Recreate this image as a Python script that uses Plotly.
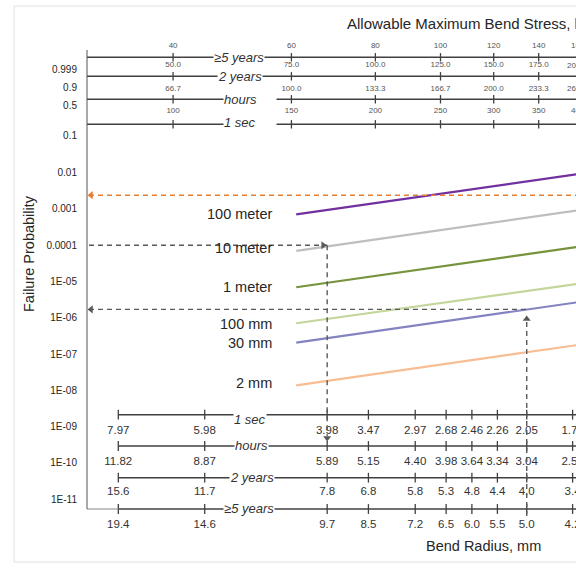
import numpy as np
import plotly.graph_objects as go

# stress (kpsi, >=5 years scale) where the curves are read
stress = [61, 80, 100, 120, 140, 160]

p_100m = [7.06e-4, 1.46e-3, 2.65e-3, 4.30e-3, 6.49e-3, 9.08e-3]
p_10m = [6.95e-5, 1.44e-4, 2.62e-4, 4.28e-4, 6.50e-4, 9.11e-4]
p_1m = [6.93e-6, 1.44e-5, 2.60e-5, 4.21e-5, 6.40e-5, 8.97e-5]
p_100mm = [7.05e-7, 1.44e-6, 2.56e-6, 4.10e-6, 6.14e-6, 8.55e-6]
p_30mm = [2.06e-7, 4.27e-7, 7.74e-7, 1.26e-6, 1.91e-6, 2.67e-6]
p_2mm = [1.37e-8, 2.85e-8, 5.14e-8, 8.35e-8, 1.27e-7, 1.77e-7]

curve_names = ['100 meter', '10 meter', '1 meter', '100 mm', '30 mm', '2 mm']
curve_colors = ['#7030A0', '#BEBEBE', '#77933C', '#C3D69B', '#8383C2', '#F8BD92']

prob_ticks = [0.999, 0.9, 0.5, 0.1, 0.01, 0.001, 0.0001, 1e-5, 1e-6, 1e-7,
              1e-8, 1e-9, 1e-10, 1e-11]
prob_labels = ['0.999', '0.9', '0.5', '0.1', '0.01', '0.001', '0.0001', '1E-05',
               '1E-06', '1E-07', '1E-08', '1E-09', '1E-10', '1E-11']

# top scales, ticks sit at the >=5 years stress
stress_5y = [40, 60, 80, 100, 120, 140, 160]
stress_2y = ['50.0', '75.0', '100.0', '125.0', '150.0', '175.0', '200.0']
stress_hours = ['66.7', '100.0', '133.3', '166.7', '200.0', '233.3', '266.7']
stress_1s = ['100', '150', '200', '250', '300', '350', '400']

# bottom scales, ticks sit at the 1 sec bend radius (mm)
radius_1s = [7.97, 5.98, 3.98, 3.47, 2.97, 2.68, 2.46, 2.26, 2.05, 1.76]
radius_hours = ['11.82', '8.87', '5.89', '5.15', '4.40', '3.98', '3.64', '3.34', '3.04', '2.59']
radius_2y = ['15.6', '11.7', '7.8', '6.8', '5.8', '5.3', '4.8', '4.4', '4.0', '3.4']
radius_5y = ['19.4', '14.6', '9.7', '8.5', '7.2', '6.5', '6.0', '5.5', '5.0', '4.2']

# worked examples drawn as dashed arrows
example_prob = [1e-4, 1.7e-6]
example_radius = [3.98, 2.05]
orange_prob = 2.4e-3

FONT = 'Liberation Sans, Arial, sans-serif'
GRAY = '#595959'
ORANGE = '#E67E30'
LINE = '#404040'

W = 576
# plot box, pixels
L, R, T, B = 87, 576, 30, 560
AX_TOP, AX_BOT = 50, 509

label_dy = [0, 3, 0, -1, 0, 2]


def weib(p):
    return np.log10(-np.log1p(-np.asarray(p, dtype=float)))


def v_px(py):
    return -2 - (py - 172.7) / 36.26


def s_px(px):
    return 10 ** (2 + (px - 440.5) / 672)


def px_s(s):
    return 440.5 + 672 * (np.log10(s) - 2)


def r_px(px):
    return 10 ** (np.log10(7.97) - (px - 118.3) / 692.6)


def px_r(r):
    return 118.3 + 692.6 * (np.log10(7.97) - np.log10(r))


def xp(px):
    return (px - L) / (R - L)


def yp(py):
    return (B - py) / (B - T)


fig = go.Figure()

for name, p, col, dy in zip(curve_names, [p_100m, p_10m, p_1m, p_100mm, p_30mm, p_2mm], curve_colors, label_dy):
    fig.add_trace(go.Scatter(x=stress, y=weib(p), mode='lines', line=dict(color=col, width=2.2)))
    fig.add_annotation(x=np.log10(stress[0]), y=float(weib(p[0])), text=name, showarrow=False,
                       xanchor='right', xshift=-22, yshift=dy,
                       font=dict(size=14.5, color='#262626', family=FONT))

# probability axis line and its crosses
fig.add_shape(type='line', xref='paper', yref='paper', x0=0, x1=0, y0=yp(AX_BOT), y1=yp(AX_TOP),
              line=dict(color='#555', width=1))
fig.add_trace(go.Scatter(x=[s_px(L)] * len(prob_ticks), y=weib(prob_ticks), mode='markers',
                         marker=dict(symbol='cross-thin', size=8, line=dict(width=1.3, color='#333')),
                         cliponaxis=False))

# top rows: (row y px, label y px, labels)
top_rows = [(57.3, 45.7, [str(s) for s in stress_5y]),
            (76.3, 65.0, stress_2y),
            (99.3, 88.7, stress_hours),
            (124.3, 111.0, stress_1s)]
x_max = s_px(R)
for row_y, lab_y, labels in top_rows:
    fig.add_trace(go.Scatter(x=[s_px(L), s_px(600)], y=[v_px(row_y)] * 2, mode='lines',
                             line=dict(color=LINE, width=1.5)))
    fig.add_trace(go.Scatter(x=stress_5y, y=[v_px(row_y)] * len(stress_5y), mode='markers',
                             marker=dict(symbol='line-ns', size=6, line=dict(width=1.3, color=LINE)),
                             cliponaxis=False))
    inside = [s <= x_max for s in stress_5y]
    fig.add_trace(go.Scatter(x=[s for s, k in zip(stress_5y, inside) if k],
                             y=[v_px(lab_y)] * sum(inside), mode='text',
                             text=[t for t, k in zip(labels, inside) if k],
                             textfont=dict(size=8, color='#555', family=FONT), cliponaxis=False))
    # the column that falls off the right edge is only half visible
    for s, lab, k in zip(stress_5y, labels, inside):
        if not k:
            fig.add_annotation(xref='paper', yref='paper', x=xp(px_s(s)), y=yp(lab_y), text=lab,
                               showarrow=False, xanchor='center', yanchor='middle',
                               font=dict(size=8, color='#555', family=FONT))

bottom_rows = [(414.7, 430.7, ['%.2f' % r for r in radius_1s]),
               (446.0, 462.0, radius_hours),
               (477.7, 491.7, radius_2y),
               (509.0, 525.0, radius_5y)]
for row_y, lab_y, labels in bottom_rows:
    fig.add_trace(go.Scatter(x=[radius_1s[0], r_px(600)], y=[v_px(row_y)] * 2, mode='lines', xaxis='x2',
                             line=dict(color=LINE, width=1.5)))
    fig.add_trace(go.Scatter(x=radius_1s, y=[v_px(row_y)] * len(radius_1s), mode='markers', xaxis='x2',
                             marker=dict(symbol='line-ns', size=7, line=dict(width=1.3, color=LINE)),
                             cliponaxis=False))
    fig.add_trace(go.Scatter(x=radius_1s, y=[v_px(lab_y)] * len(radius_1s), mode='text', text=labels,
                             xaxis='x2', textfont=dict(size=11.5, color='#333', family=FONT),
                             cliponaxis=False))

# corner where the probability axis meets the bottom row
fig.add_trace(go.Scatter(x=[r_px(L), radius_1s[0]], y=[v_px(AX_BOT)] * 2, mode='lines', xaxis='x2',
                         line=dict(color='#888', width=1)))

# row names: text, left px, centre y px, white box width
row_names = [('≥5 years', 213, 57.3, None), ('2 years', 217, 76.3, None), ('hours', 223, 99.3, 52),
             ('1 sec', 223, 123.0, 52), ('1 sec', 233, 419.3, None), ('hours', 234, 445.7, None),
             ('2 years', 229, 477.3, None), ('≥5 years', 223, 508.7, None)]
for txt, x0, y0, w in row_names:
    fig.add_annotation(xref='paper', yref='paper', x=xp(x0), y=yp(y0), text='<i>%s</i>' % txt,
                       showarrow=False, xanchor='left', yanchor='middle', bgcolor='white', borderpad=0,
                       width=w, align='left', font=dict(size=13, color='#333', family=FONT))

dash = dict(color=GRAY, width=1.4, dash='5px,4px')
tri = dict(size=7, color=GRAY)

# example 1: probability -> 10 meter curve -> radius
y1 = float(weib(example_prob[0]))
fig.add_trace(go.Scatter(x=[r_px(L + 2), example_radius[0]], y=[y1, y1], mode='lines', xaxis='x2', line=dash))
fig.add_trace(go.Scatter(x=[example_radius[0], example_radius[0]], y=[y1, v_px(436)], mode='lines',
                         xaxis='x2', line=dash))
fig.add_trace(go.Scatter(x=[r_px(px_r(example_radius[0]) - 4), example_radius[0]], y=[y1, v_px(438)],
                         mode='markers', xaxis='x2', cliponaxis=False,
                         marker=dict(symbol=['triangle-right', 'triangle-down'], **tri)))

# example 2: radius -> 30 mm curve -> probability
y2 = float(weib(example_prob[1]))
fig.add_trace(go.Scatter(x=[example_radius[1], example_radius[1]], y=[v_px(516), v_px(318)], mode='lines',
                         xaxis='x2', line=dash))
fig.add_trace(go.Scatter(x=[r_px(L + 2), example_radius[1]], y=[y2, y2], mode='lines', xaxis='x2', line=dash))
fig.add_trace(go.Scatter(x=[example_radius[1], r_px(L + 4)], y=[v_px(319), y2], mode='markers', xaxis='x2',
                         cliponaxis=False, marker=dict(symbol=['triangle-up', 'triangle-left'], **tri)))

yo = float(weib(orange_prob))
fig.add_trace(go.Scatter(x=[s_px(L + 2), s_px(600)], y=[yo, yo], mode='lines',
                         line=dict(color=ORANGE, width=1.5, dash='5px,4px')))
fig.add_trace(go.Scatter(x=[s_px(L + 4)], y=[yo], mode='markers', cliponaxis=False,
                         marker=dict(symbol='triangle-left', size=7, color=ORANGE)))

fig.add_annotation(xref='paper', yref='paper', x=xp(345), y=yp(23.3), text='Allowable Maximum Bend Stress, kpsi',
                   showarrow=False, xanchor='left', yanchor='middle',
                   font=dict(size=15, color='#262626', family=FONT))
fig.add_annotation(xref='paper', yref='paper', x=xp(483), y=yp(546), text='Bend Radius, mm',
                   showarrow=False, xanchor='center', yanchor='middle',
                   font=dict(size=14.5, color='#262626', family=FONT))
fig.add_annotation(xref='paper', yref='paper', x=xp(29), y=yp(254), text='Failure Probability',
                   showarrow=False, textangle=-90, xanchor='center', yanchor='middle',
                   font=dict(size=14.5, color='#262626', family=FONT))

fig.add_shape(type='rect', xref='paper', yref='paper', x0=xp(14), x1=xp(700), y0=yp(562), y1=yp(6),
              line=dict(color='#E2E2E2', width=1), layer='below')

fig.update_layout(
    template='none',
    width=W, height=W,
    margin=dict(l=L, r=W - R, t=T, b=W - B),
    showlegend=False,
    hovermode=False,
    plot_bgcolor='white', paper_bgcolor='white',
    font=dict(family=FONT),
    xaxis=dict(type='log', range=[np.log10(s_px(L)), np.log10(s_px(R))], showgrid=False, zeroline=False,
               showticklabels=False, ticks='', showline=False, automargin=False),
    xaxis2=dict(type='log', overlaying='x', range=[np.log10(r_px(L)), np.log10(r_px(R))], visible=False),
    yaxis=dict(range=[v_px(B), v_px(T)], tickvals=list(weib(prob_ticks)), ticktext=prob_labels,
               showgrid=False, zeroline=False, ticks='outside', ticklen=7, tickcolor='rgba(0,0,0,0)',
               tickfont=dict(size=10, color='#262626', family=FONT), showline=False, automargin=False),
)

# drop the page margin so the figure sits in the window corner
fig.write_html('out.html', config={'displayModeBar': False},
               post_script="document.body.style.margin='0';document.body.style.overflow='hidden';")
